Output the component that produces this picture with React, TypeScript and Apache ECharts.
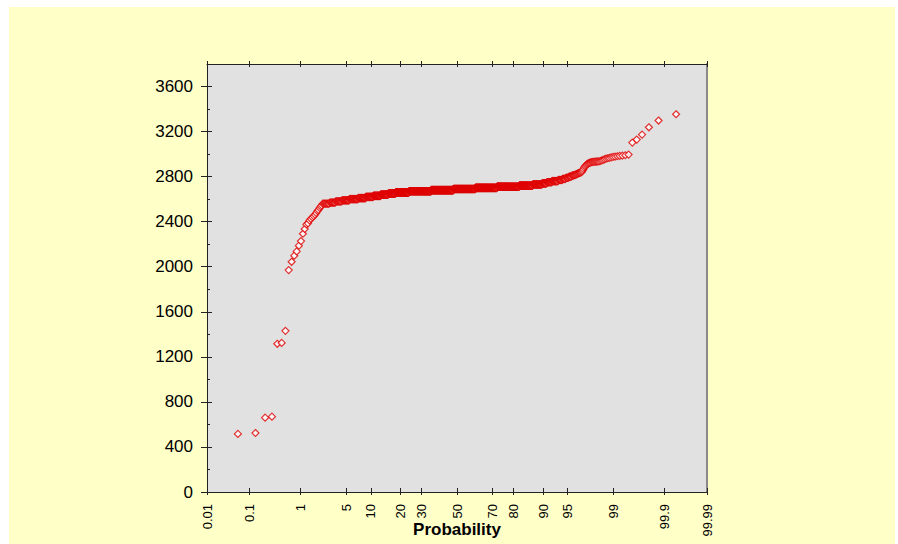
import React, { useEffect, useRef } from "react";
import * as echarts from "echarts";

// Probability-axis tick positions (percent) and their labels
const PROB_TICKS = [0.01, 0.1, 1, 5, 10, 20, 30, 50, 70, 80, 90, 95, 99, 99.9, 99.99];
const PROB_LABELS = ["0.01", "0.1", "1", "5", "10", "20", "30", "50", "70", "80", "90", "95", "99", "99.9", "99.99"];

// Sorted sample: low outliers, the dense core as a frequency table, then the high tail
const LOWER_TAIL = [
  516, 524, 660, 669, 1316, 1324, 1431, 1970, 2044, 2098, 2136, 2187, 2228, 2293,
  2335, 2376, 2385, 2412, 2425, 2438, 2450, 2462, 2478, 2495, 2505, 2522, 2535, 2545,
];
const CORE_VALUES = [
  2560, 2570, 2580, 2590, 2600, 2610, 2620, 2630, 2640, 2650, 2660, 2670, 2680,
  2690, 2700, 2710, 2720, 2730, 2740, 2750, 2760, 2770, 2780, 2790, 2800, 2810,
];
const CORE_COUNTS = [
  8, 8, 10, 14, 20, 21, 24, 27, 31, 35, 71, 141, 161,
  162, 145, 124, 59, 34, 15, 15, 16, 10, 7, 6, 5, 3,
];
const UPPER_TAIL = [
  2812, 2814, 2816, 2818, 2820, 2823, 2826, 2829, 2832, 2834, 2836, 2839, 2843, 2852,
  2866, 2880, 2890, 2898, 2906, 2913, 2918, 2922, 2925, 2928, 2930, 2931, 2932, 2933,
  2934, 2935, 2936, 2939, 2943, 2948, 2954, 2960, 2963, 2966, 2971, 2975, 2978, 2981,
  2984, 2987, 2990, 2996, 3102, 3129, 3173, 3238, 3298, 3354,
];

// Inverse standard normal CDF (Acklam's rational approximation)
function probit(p: number): number {
  const a = [-3.969683028665376e1, 2.209460984245205e2, -2.759285104469687e2, 1.38357751867269e2, -3.066479806614716e1, 2.506628277459239];
  const b = [-5.447609879822406e1, 1.615858368580409e2, -1.556989798598866e2, 6.680131188771972e1, -1.328068155288572e1];
  const c = [-7.784894002430293e-3, -3.223964580411365e-1, -2.400758277161838, -2.549732539343734, 4.374664141464968, 2.938163982698783];
  const d = [7.784695709041462e-3, 3.224671290700398e-1, 2.445134137142996, 3.754408661907416];
  const plow = 0.02425;
  if (p < plow) {
    const q = Math.sqrt(-2 * Math.log(p));
    return (((((c[0] * q + c[1]) * q + c[2]) * q + c[3]) * q + c[4]) * q + c[5]) / ((((d[0] * q + d[1]) * q + d[2]) * q + d[3]) * q + 1);
  }
  if (p <= 1 - plow) {
    const q = p - 0.5;
    const r = q * q;
    return ((((((a[0] * r + a[1]) * r + a[2]) * r + a[3]) * r + a[4]) * r + a[5]) * q) / (((((b[0] * r + b[1]) * r + b[2]) * r + b[3]) * r + b[4]) * r + 1);
  }
  const q = Math.sqrt(-2 * Math.log(1 - p));
  return -(((((c[0] * q + c[1]) * q + c[2]) * q + c[3]) * q + c[4]) * q + c[5]) / ((((d[0] * q + d[1]) * q + d[2]) * q + d[3]) * q + 1);
}

function buildSample(): number[] {
  const out: number[] = [...LOWER_TAIL];
  CORE_VALUES.forEach((v, k) => {
    for (let j = 0; j < CORE_COUNTS[k]; j++) out.push(v);
  });
  out.push(...UPPER_TAIL);
  return out;
}

export default function App() {
  const ref = useRef<HTMLDivElement>(null);

  useEffect(() => {
    if (!ref.current) return;
    const chart = echarts.init(ref.current, null, { renderer: "svg" });

    const sample = buildSample();
    const n = sample.length;
    // Benard plotting positions on the normal-probability scale
    const points = sample.map((v, i) => [probit((i + 1 - 0.3) / (n + 0.4)), v]);

    const tickZ = PROB_TICKS.map((p) => probit(p / 100));
    const zMin = tickZ[0];
    const zMax = tickZ[tickZ.length - 1];
    const labelFor = (val: number) => {
      const idx = tickZ.findIndex((z) => Math.abs(z - val) < 1e-6);
      return idx >= 0 ? PROB_LABELS[idx] : "";
    };
    const font = "'Liberation Sans', Arial, sans-serif";
    const dark = "#222222";

    const probAxis = (extra: any) => ({
      type: "value",
      min: zMin,
      max: zMax,
      splitLine: { show: false },
      axisLabel: { show: false },
      ...extra,
    });

    const valueAxis = (extra: any) => ({
      type: "value",
      min: 0,
      max: 3800,
      splitLine: { show: false },
      axisLabel: { show: false },
      ...extra,
    });

    chart.setOption({
      animation: false,
      textStyle: { fontFamily: font },
      grid: {
        left: 198,
        top: 57,
        width: 500,
        height: 428,
        show: true,
        backgroundColor: "#e1e1e1",
        borderWidth: 0,
        outerBoundsMode: "none",
        containLabel: false,
      },
      xAxis: [
        probAxis({
          position: "bottom",
          axisLine: { show: true, onZero: false, lineStyle: { color: dark, width: 1 } },
          axisTick: { show: true, length: 3, customValues: tickZ, lineStyle: { color: dark } },
          axisLabel: {
            show: true,
            customValues: tickZ,
            rotate: 90,
            margin: 12,
            fontSize: 13,
            color: "#000",
            fontFamily: font,
            formatter: (val: number) => labelFor(val),
          },
          name: "Probability",
          nameLocation: "middle",
          nameGap: 29,
          nameMoveOverlap: false,
          nameTextStyle: { fontSize: 17, fontWeight: "bold", color: "#000", fontFamily: font },
        }),
        probAxis({
          position: "bottom",
          axisLine: { show: false, onZero: false },
          axisTick: { show: true, inside: true, length: 4, customValues: tickZ, lineStyle: { color: dark } },
        }),
        probAxis({
          position: "top",
          axisLine: { show: true, onZero: false, lineStyle: { color: dark, width: 1 } },
          axisTick: { show: true, length: 3, customValues: tickZ, lineStyle: { color: dark } },
        }),
        probAxis({
          position: "top",
          axisLine: { show: false, onZero: false },
          axisTick: { show: true, inside: true, length: 3, customValues: tickZ, lineStyle: { color: dark } },
        }),
      ],
      yAxis: [
        valueAxis({
          position: "left",
          interval: 400,
          axisLine: { show: true, onZero: false, lineStyle: { color: dark, width: 1 } },
          axisTick: { show: true, length: 6, lineStyle: { color: dark } },
          axisLabel: {
            show: true,
            fontSize: 17,
            color: "#000",
            margin: 14,
            showMaxLabel: false,
            fontFamily: font,
            formatter: (v: number) => String(v),
          },
        }),
        valueAxis({
          position: "left",
          interval: 200,
          axisLine: { show: false, onZero: false },
          axisTick: { show: true, inside: true, length: 3, lineStyle: { color: dark } },
        }),
        valueAxis({
          position: "left",
          interval: 400,
          axisLine: { show: false, onZero: false },
          axisTick: { show: true, inside: true, length: 5, lineStyle: { color: dark } },
        }),
        valueAxis({
          position: "right",
          axisLine: { show: true, onZero: false, lineStyle: { color: "#8a8a8a", width: 2 } },
          axisTick: { show: false },
        }),
      ],
      series: [
        {
          type: "scatter",
          xAxisIndex: 0,
          yAxisIndex: 0,
          data: points,
          symbol: "diamond",
          symbolSize: 7,
          silent: true,
          itemStyle: { color: "#ffffff", borderColor: "#e00000", borderWidth: 1.2 },
        },
      ],
    });

    return () => chart.dispose();
  }, []);

  return (
    <div
      style={{
        position: "absolute",
        left: 9,
        top: 7,
        width: 886,
        height: 537,
        background: "#FFFFC8",
      }}
    >
      <div ref={ref} style={{ width: "100%", height: "100%" }} />
    </div>
  );
}
